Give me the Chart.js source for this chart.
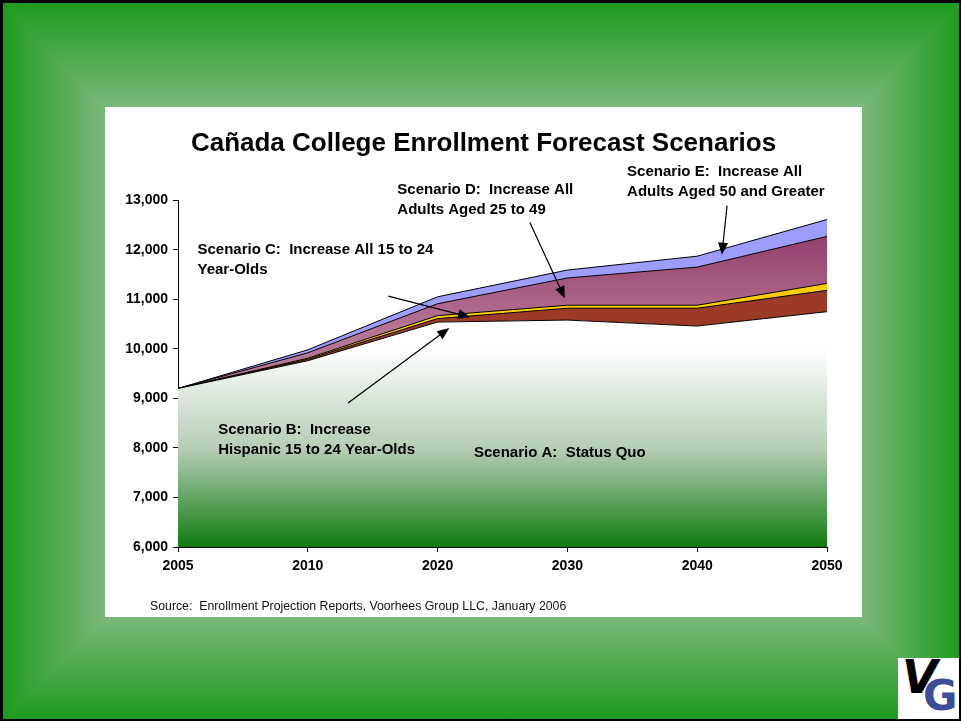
<!DOCTYPE html>
<html>
<head>
<meta charset="utf-8">
<script src="https://cdn.jsdelivr.net/npm/chart.js@4.4.1/dist/chart.umd.min.js"></script>
<style>
  html, body { margin: 0; padding: 0; }
  body { width: 961px; height: 723px; position: relative; overflow: hidden; background: #fff; font-family: "Liberation Sans", Arial, sans-serif; }
  .frame { position: absolute; left: 0; top: 0; width: 961px; height: 720px; overflow: hidden; background: #4aa84a; }
  .tri { position: absolute; left: 0; top: 0; width: 961px; height: 720px; }
  .t { background: linear-gradient(to bottom, #1c9a1c 0px, #7ab87a 107px, #7ab87a 360px, transparent 360px); }
  .b { background: linear-gradient(to top, #1c9a1c 0px, #7ab87a 103px, #7ab87a 360px, transparent 360px); }
  .l { background: linear-gradient(to right, #1c9a1c 0px, #7ab87a 105px, #7ab87a 961px); clip-path: polygon(0 0, 105px 107px, 105px 617px, 0 720px); }
  .r { background: linear-gradient(to left, #1c9a1c 0px, #7ab87a 99px, #7ab87a 961px); clip-path: polygon(961px 0, 961px 720px, 862px 617px, 862px 107px); }
  .edge { position: absolute; left: 0; top: 0; width: 961px; height: 721px; box-sizing: border-box; border-top: 3px solid #000; border-left: 3px solid #000; border-right: 2px solid #000; border-bottom: 2px solid #000; }
  .box { position: absolute; left: 105px; top: 107px; width: 757px; height: 510px; background: #fff; }
  .source { position: absolute; left: 150px; top: 599px; font-size: 12.3px; color: #111; white-space: pre; }
  .logo { position: absolute; left: 898px; top: 658px; width: 61px; height: 61px; background: #fff; overflow: hidden; }
  .logo .v { position: absolute; left: 4px; top: -8px; font: italic 900 46px "DejaVu Sans", sans-serif; color: #000; }
  .logo .g { position: absolute; left: 25px; top: 13px; font: 900 42px "DejaVu Sans", sans-serif; color: #3d4c98; }
</style>
</head>
<body>
<div class="frame">
  <div class="tri t"></div><div class="tri b"></div><div class="tri l"></div><div class="tri r"></div>
</div>
<div class="edge"></div>
<div class="box"><canvas id="myChart" width="757" height="510"></canvas></div>
<div class="source">Source:  Enrollment Projection Reports, Voorhees Group LLC, January 2006</div>
<div class="logo"><span class="v">V</span><span class="g">G</span></div>
<script>
const ctx = document.getElementById('myChart');

// data (stack increments on top of Status Quo)
const years = ['2005', '2010', '2020', '2030', '2040', '2050'];
const statusQuo = [9200, 9760, 10540, 10580, 10460, 10750];
const hispanicAdd = [0, 30, 70, 240, 360, 430];
const youthAdd = [0, 20, 60, 60, 60, 140];
const adults25Add = [0, 110, 240, 550, 770, 950];
const adults50Add = [0, 60, 140, 160, 220, 340];

const yTicks = [6000, 7000, 8000, 9000, 10000, 11000, 12000, 13000];

// callouts: text anchored at (x index, value), arrow from -> to
const notes = [
    { lines: ['Scenario E:  Increase All', 'Adults Aged 50 and Greater'], x: 3.46, y: 13565, from: [4.23, 12890], to: [4.19, 11900] },
    { lines: ['Scenario D:  Increase All', 'Adults Aged 25 to 49'], x: 1.69, y: 13200, from: [2.71, 12555], to: [2.98, 11020] },
    { lines: ['Scenario C:  Increase All 15 to 24', 'Year-Olds'], x: 0.15, y: 11990, from: [1.62, 11063], to: [2.25, 10640] },
    { lines: ['Scenario B:  Increase', 'Hispanic 15 to 24 Year-Olds'], x: 0.31, y: 8360, from: [1.31, 8905], to: [2.09, 10420] },
    { lines: ['Scenario A:  Status Quo'], x: 2.28, y: 7896 }
];

function gradA(c) {
    const a = c.chart.chartArea;
    if (!a) return '#fff';
    const g = c.chart.ctx.createLinearGradient(0, a.top, 0, a.bottom);
    g.addColorStop(0, '#ffffff');
    g.addColorStop(0.43, '#ffffff');
    g.addColorStop(0.72, '#b4ccb4');
    g.addColorStop(1, '#0e7c0e');
    return g;
}
function gradD(c) {
    const a = c.chart.chartArea;
    if (!a) return '#a04a78';
    const g = c.chart.ctx.createLinearGradient(0, a.top, 0, a.top + 130);
    g.addColorStop(0, '#862a5c');
    g.addColorStop(1, '#b77595');
    return g;
}

const common = { borderColor: '#000', borderWidth: 1, pointRadius: 0, tension: 0 };

const data = {
    labels: years,
    datasets: [
        Object.assign({ label: 'Scenario A', data: statusQuo, fill: 'start', backgroundColor: gradA }, common),
        Object.assign({ label: 'Scenario B', data: hispanicAdd, fill: '-1', backgroundColor: '#9c3a28' }, common),
        Object.assign({ label: 'Scenario C', data: youthAdd, fill: '-1', backgroundColor: '#ffcc00' }, common),
        Object.assign({ label: 'Scenario D', data: adults25Add, fill: '-1', backgroundColor: gradD }, common),
        Object.assign({ label: 'Scenario E', data: adults50Add, fill: '-1', backgroundColor: '#9d9dff' }, common)
    ]
};

const notesPlugin = {
    id: 'notes',
    afterDatasetsDraw(chart) {
        const c = chart.ctx, xs = chart.scales.x, ys = chart.scales.y;
        c.save();
        c.font = 'bold 15px "Liberation Sans", Arial';
        c.fillStyle = '#000';
        c.textBaseline = 'middle';
        notes.forEach(n => {
            const x = xs.getPixelForValue(n.x);
            const y = ys.getPixelForValue(n.y);
            n.lines.forEach((t, i) => c.fillText(t, x, y + i * 20));
            if (n.from) {
                const x1 = xs.getPixelForValue(n.from[0]), y1 = ys.getPixelForValue(n.from[1]);
                const x2 = xs.getPixelForValue(n.to[0]), y2 = ys.getPixelForValue(n.to[1]);
                const ang = Math.atan2(y2 - y1, x2 - x1);
                c.strokeStyle = '#000';
                c.lineWidth = 1.2;
                c.beginPath();
                c.moveTo(x1, y1);
                c.lineTo(x2 - 8 * Math.cos(ang), y2 - 8 * Math.sin(ang));
                c.stroke();
                c.beginPath();
                c.moveTo(x2, y2);
                c.lineTo(x2 - 12 * Math.cos(ang) + 5 * Math.sin(ang), y2 - 12 * Math.sin(ang) - 5 * Math.cos(ang));
                c.lineTo(x2 - 12 * Math.cos(ang) - 5 * Math.sin(ang), y2 - 12 * Math.sin(ang) + 5 * Math.cos(ang));
                c.closePath();
                c.fill();
            }
        });
        c.restore();
    }
};

new Chart(ctx, {
    type: 'line',
    data: data,
    plugins: [notesPlugin],
    options: {
        responsive: false,
        animation: false,
        layout: { padding: 0 },
        plugins: {
            legend: { display: false },
            tooltip: { enabled: false },
            title: {
                display: true,
                text: 'Cañada College Enrollment Forecast Scenarios',
                color: '#000',
                font: { family: '"Liberation Sans", Arial', size: 26, weight: 'bold' },
                padding: { top: 21, bottom: 41 }
            }
        },
        scales: {
            x: {
                offset: false,
                grid: { display: true, drawOnChartArea: false, drawTicks: true, tickLength: 5, color: '#000' },
                border: { color: '#000' },
                ticks: { color: '#000', padding: 6, maxRotation: 0, font: { family: '"Liberation Sans", Arial', size: 14, weight: 'bold' } },
                afterFit: s => { s.height = 70; }
            },
            y: {
                stacked: true,
                min: 6000,
                max: 13000,
                afterBuildTicks: s => { s.ticks = yTicks.map(v => ({ value: v })); },
                grid: { display: true, drawOnChartArea: false, drawTicks: true, tickLength: 5, color: '#000' },
                border: { color: '#000' },
                ticks: {
                    color: '#000', padding: 5,
                    font: { family: '"Liberation Sans", Arial', size: 14, weight: 'bold' },
                    callback: v => v.toLocaleString('en-US')
                },
                afterFit: s => { s.width = 73; }
            },
            spacer: {
                type: 'linear',
                position: 'right',
                display: true,
                grid: { display: false },
                border: { display: false },
                ticks: { display: false },
                afterFit: s => { s.width = 35; }
            }
        }
    }
});
</script>
</body>
</html>
